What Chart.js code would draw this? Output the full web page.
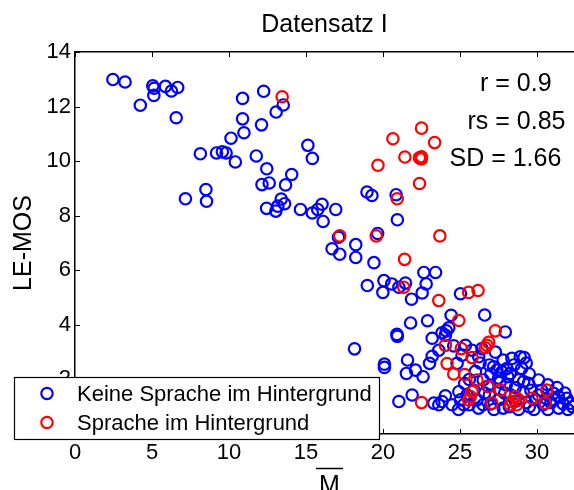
<!DOCTYPE html>
<html>
<head>
<meta charset="utf-8">
<script src="https://cdn.jsdelivr.net/npm/chart.js@4.4.0/dist/chart.umd.min.js"></script>
<style>
  html, body { margin: 0; padding: 0; background: #fff; }
  #wrap { width: 574px; height: 490px; position: relative; }
</style>
</head>
<body>
<div id="wrap"><canvas id="chart"></canvas></div>
<script>
// Keine Sprache im Hintergrund (blue)
const blueX = [
  2.46, 3.25, 4.24, 5.05, 5.14, 5.12, 5.87, 6.26, 6.67, 6.57,
  7.17, 8.14, 8.50, 8.54, 9.19, 9.57, 9.81, 10.13, 10.41, 10.88,
  10.88, 10.97, 11.77, 12.25, 12.11, 13.06, 13.52, 12.45, 12.14, 12.61,
  13.67, 14.07, 12.44, 13.04, 13.17, 13.39, 13.61, 14.64, 15.12, 15.41,
  15.41, 15.76, 16.04, 16.11, 16.93, 16.69, 17.19, 18.23, 18.23, 17.11,
  18.96, 19.28, 20.85, 20.93, 19.65, 19.41, 22.65, 23.41, 22.80, 22.54,
  21.46, 18.98, 20.06, 19.99, 20.56, 21.03, 21.85, 21.79, 20.90, 20.93,
  18.15, 20.09, 20.09, 21.59, 21.52, 22.11, 22.60, 23.02, 23.19, 22.89,
  23.19, 23.83, 24.11, 24.05, 24.27, 23.62, 24.59, 24.81, 25.13, 25.03,
  24.42, 26.60, 27.94, 26.21, 26.42, 25.35, 25.78, 28.37, 28.91, 29.16,
  27.18, 27.40, 27.72, 28.04, 28.26, 29.13, 29.45, 31.07, 31.39, 31.93,
  32.15, 23.83, 21.03, 21.89, 23.30, 23.62, 24.05, 24.92, 25.03, 25.24,
  25.45, 24.48, 24.90, 25.60, 26.10, 26.50, 26.90, 27.20, 27.50, 27.80,
  28.00, 28.30, 28.80, 29.10, 29.30, 29.80, 30.10, 30.40, 30.70, 31.10,
  31.40, 31.70, 32.00, 30.70, 30.10, 28.80, 27.50, 26.50, 26.90, 27.80,
  28.50, 29.50, 25.90, 26.20, 27.00, 28.60, 29.50, 30.90, 32.30, 25.30,
  26.00, 26.80, 28.20, 29.90, 31.80, 26.30, 27.00, 27.60, 28.10, 28.60,
  29.00, 29.60, 30.30, 27.30, 25.60, 27.90, 29.30, 31.30, 30.60, 26.60
];
const blueY = [
  12.99, 12.90, 12.05, 12.76, 12.67, 12.41, 12.74, 12.57, 12.70, 11.59,
  8.62, 10.27, 8.96, 8.53, 10.30, 10.34, 10.30, 10.84, 9.97, 12.30,
  11.55, 11.04, 10.19, 12.56, 11.33, 11.80, 12.06, 9.72, 9.14, 9.20,
  9.13, 9.51, 8.27, 8.17, 8.35, 8.61, 8.44, 8.23, 10.58, 10.10,
  8.10, 8.23, 8.42, 7.79, 8.23, 6.79, 6.59, 6.94, 6.47, 7.21,
  8.87, 8.74, 8.77, 7.85, 7.35, 6.28, 5.92, 5.92, 5.50, 5.17,
  5.53, 5.44, 5.62, 5.19, 5.50, 5.38, 4.94, 4.07, 3.65, 3.58,
  3.12, 2.56, 2.44, 2.71, 2.22, 2.34, 2.10, 2.59, 2.85, 4.15,
  3.51, 3.71, 3.78, 3.62, 3.89, 3.07, 3.23, 2.59, 2.89, 5.14,
  4.35, 4.36, 3.74, 2.83, 3.13, 3.25, 3.07, 2.77, 2.83, 2.80,
  2.46, 2.34, 2.28, 2.40, 2.22, 1.92, 1.86, 1.49, 1.37, 1.31,
  1.13, 1.19, 1.19, 1.43, 1.13, 1.07, 1.40, 1.55, 1.25, 1.07,
  1.43, 1.07, 0.90, 1.07, 1.25, 1.07, 1.43, 0.90, 1.25, 0.95,
  1.80, 1.43, 0.90, 1.55, 1.15, 0.90, 1.43, 1.07, 0.90, 1.25,
  0.95, 1.10, 0.90, 1.80, 1.98, 1.98, 2.05, 1.98, 2.53, 2.71,
  2.53, 2.20, 1.60, 0.95, 1.10, 1.20, 1.00, 1.15, 1.00, 1.85,
  2.30, 1.75, 1.00, 1.25, 1.50, 2.60, 2.20, 1.90, 2.10, 1.70,
  2.40, 1.60, 1.60, 3.00, 2.00, 1.50, 2.60, 1.70, 1.30, 1.50
];
// Sprache im Hintergrund (red)
const redX = [
  13.45, 22.50, 20.64, 23.35, 21.42, 22.36, 22.49, 22.50, 19.67, 22.37,
  20.92, 17.19, 19.56, 23.69, 21.40, 21.35, 23.62, 25.56, 26.17, 24.92,
  27.29, 26.86, 26.75, 26.64, 24.05, 25.08, 25.78, 24.16, 24.59, 25.30,
  26.10, 26.86, 27.62, 30.63, 25.78, 25.67, 25.56, 27.07, 28.59, 28.80,
  28.37, 28.26, 28.69, 29.66, 30.53, 22.50
];
const redY = [
  12.36, 11.21, 10.82, 10.68, 10.15, 10.12, 10.08, 10.16, 9.85, 9.18,
  8.62, 7.26, 7.26, 7.26, 6.40, 5.38, 4.89, 5.19, 5.26, 4.16,
  3.78, 3.36, 3.25, 3.16, 3.25, 3.13, 2.80, 2.58, 2.20, 2.18,
  1.98, 1.73, 1.61, 1.61, 1.55, 1.37, 1.25, 1.13, 1.37, 1.25,
  1.19, 1.07, 1.07, 1.31, 1.13, 1.15
];

const seriesNames = ['Keine Sprache im Hintergrund', 'Sprache im Hintergrund'];
const xTicks = [0, 5, 10, 15, 20, 25, 30];
const yTicks = [0, 2, 4, 6, 8, 10, 12, 14];
const statsText = ['r = 0.9', 'rs = 0.85', 'SD = 1.66'];

const FONT = '"Liberation Sans", Arial, Helvetica, sans-serif';
Chart.defaults.font.family = FONT;
Chart.defaults.color = '#000';

const toPoints = (xs, ys) => xs.map((x, i) => ({ x, y: ys[i] }));

// MATLAB-ish box decorations: inward ticks, stats text, M-bar label, legend
const matlabBox = {
  id: 'matlabBox',
  afterDraw(chart) {
    const ctx = chart.ctx;
    const { left, right, top, bottom } = chart.chartArea;
    const xs = chart.scales.x, ys = chart.scales.y;
    ctx.save();
    ctx.strokeStyle = '#000';
    ctx.lineWidth = 1;
    ctx.beginPath();
    xTicks.forEach(v => {
      const px = Math.round(xs.getPixelForValue(v)) + 0.5;
      ctx.moveTo(px, bottom); ctx.lineTo(px, bottom - 5);
      ctx.moveTo(px, top); ctx.lineTo(px, top + 5);
    });
    yTicks.forEach(v => {
      const py = Math.round(ys.getPixelForValue(v)) + 0.5;
      ctx.moveTo(left, py); ctx.lineTo(left + 5, py);
    });
    ctx.stroke();

    // stats
    ctx.fillStyle = '#000';
    ctx.font = '25px ' + FONT;
    ctx.textAlign = 'left';
    ctx.textBaseline = 'alphabetic';
    ctx.fillText(statsText[0], 480, 90.5);
    ctx.fillText(statsText[1], 467.5, 129);
    ctx.fillText(statsText[2], 449.5, 165.5);

    // x label: M with overline
    ctx.textAlign = 'center';
    ctx.fillText('M', 329.5, 493);
    ctx.lineWidth = 1.5;
    ctx.beginPath();
    ctx.moveTo(316, 468.5); ctx.lineTo(343, 468.5);
    ctx.stroke();

    // legend
    ctx.lineWidth = 1.2;
    ctx.fillStyle = '#fff';
    ctx.fillRect(14.5, 377.5, 365, 62);
    ctx.strokeRect(14.5, 377.5, 365, 62);
    const rows = [393.5, 422.5];
    chart.data.datasets.forEach((ds, i) => {
      ctx.strokeStyle = ds.borderColor;
      ctx.lineWidth = 2.2;
      ctx.beginPath();
      ctx.arc(47, rows[i], 5.7, 0, Math.PI * 2);
      ctx.stroke();
      ctx.fillStyle = '#000';
      ctx.font = '22px ' + FONT;
      ctx.textAlign = 'left';
      ctx.textBaseline = 'middle';
      ctx.fillText(ds.label, 77, rows[i] + 1);
    });
    ctx.restore();
  }
};

const pointStyle = color => ({
  borderColor: color,
  backgroundColor: 'rgba(0,0,0,0)',
  pointRadius: 5.7,
  pointBorderWidth: 2.2,
  pointHoverRadius: 5.7,
  borderWidth: 2.2
});

new Chart(document.getElementById('chart'), {
  type: 'scatter',
  data: {
    datasets: [
      { label: seriesNames[0], data: toPoints(blueX, blueY), order: 1, ...pointStyle('#0000ff') },
      { label: seriesNames[1], data: toPoints(redX, redY), order: 0, ...pointStyle('#ff0000') }
    ]
  },
  options: {
    responsive: true,
    maintainAspectRatio: false,
    animation: false,
    events: [],
    layout: { padding: 0, autoPadding: false },
    plugins: {
      legend: { display: false },
      tooltip: { enabled: false },
      title: {
        display: true,
        text: 'Datensatz I',
        fullSize: false,
        font: { size: 25, weight: 'normal' },
        color: '#000',
        padding: { top: 10, bottom: 12 }
      }
    },
    scales: {
      x: {
        type: 'linear',
        position: 'bottom',
        min: 0,
        max: 32.4,
        afterBuildTicks: s => { s.ticks = xTicks.map(v => ({ value: v })); },
        afterFit: s => { s.height = 56; },
        grid: { display: true, drawOnChartArea: false, drawTicks: false },
        border: { display: true, color: '#000', width: 1.5 },
        ticks: { font: { size: 22 }, padding: 6, color: '#000', maxRotation: 0 }
      },
      x2: {
        type: 'linear',
        position: 'top',
        min: 0,
        max: 32.4,
        afterFit: s => { s.height = 0; },
        grid: { display: true, drawOnChartArea: false, drawTicks: false },
        border: { display: true, color: '#000', width: 1.5 },
        ticks: { display: false }
      },
      y: {
        type: 'linear',
        position: 'left',
        min: 0,
        max: 14,
        afterBuildTicks: s => { s.ticks = yTicks.map(v => ({ value: v })); },
        afterFit: s => { s.width = 75; },
        grid: { display: true, drawOnChartArea: false, drawTicks: false },
        border: { display: true, color: '#000', width: 1.5 },
        ticks: { font: { size: 22 }, padding: 4, color: '#000' },
        title: {
          display: true,
          text: 'LE-MOS',
          font: { size: 25 },
          color: '#000',
          padding: { top: 9, bottom: 0 }
        }
      }
    }
  },
  plugins: [matlabBox]
});
</script>
</body>
</html>
